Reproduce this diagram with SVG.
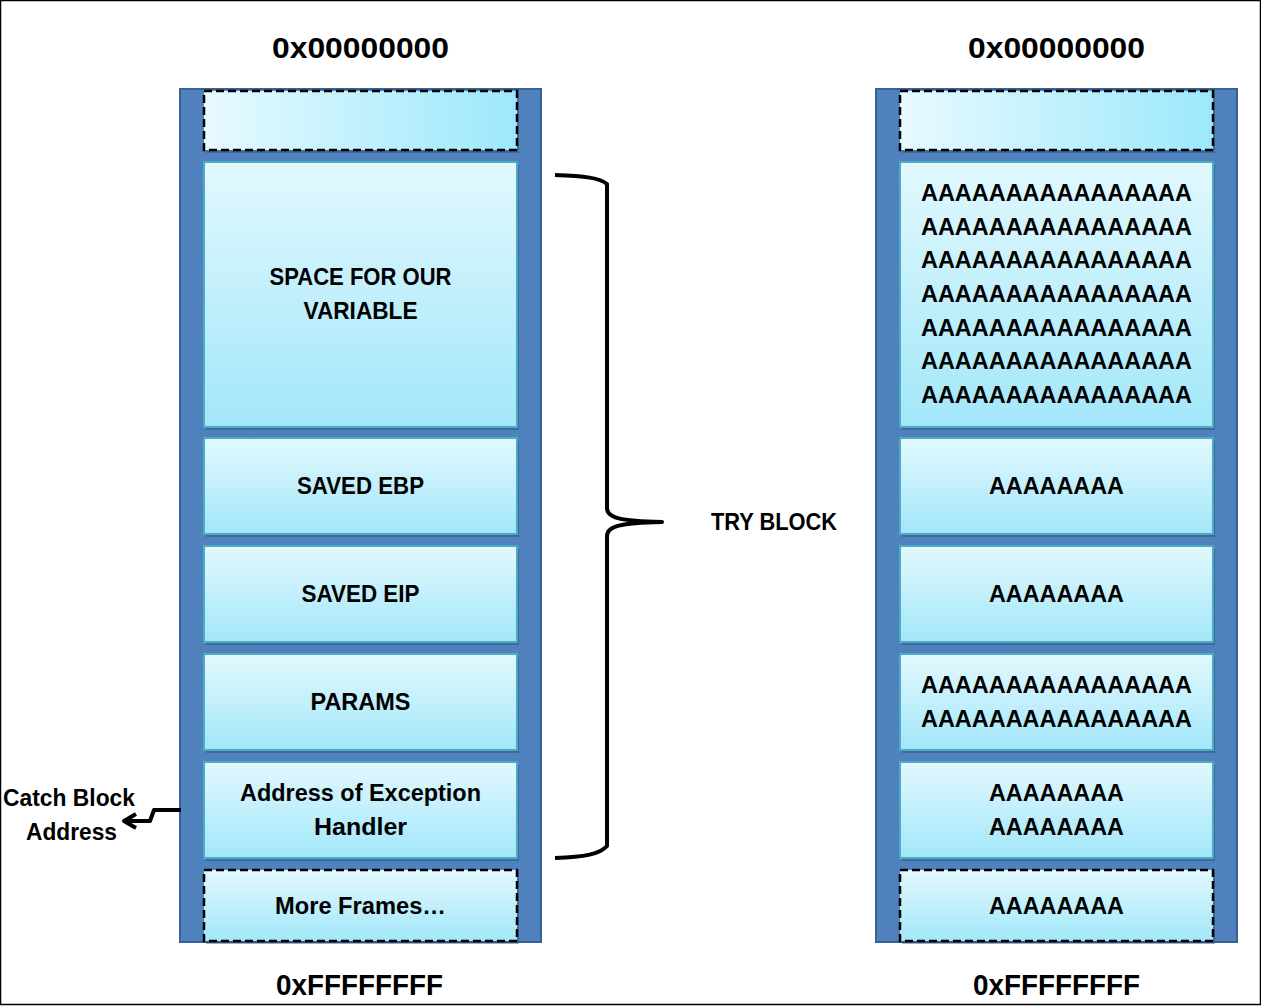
<svg xmlns="http://www.w3.org/2000/svg" width="1261" height="1006" viewBox="0 0 1261 1006">
<style>
.t{font-family:"Liberation Sans",Arial,sans-serif;font-weight:bold;fill:#000;text-anchor:middle}
.lbl{font-size:23px}
.addr{font-size:30px}
.col{fill:#4F81BD;stroke:#3A6094;stroke-width:2}
.box{fill:url(#vg);stroke:#4BACC6;stroke-width:2}
.dash{stroke:#000;stroke-width:2.5;stroke-dasharray:8,4}
.sh{fill:#2c4a70;opacity:0.45}
.conn{fill:none;stroke:#000;stroke-width:4;stroke-linejoin:round}
</style>
<defs>
<linearGradient id="vg" x1="0" y1="0" x2="0" y2="1">
<stop offset="0" stop-color="#E2F8FE"/><stop offset="1" stop-color="#A2E7F9"/>
</linearGradient>
<linearGradient id="hg" x1="0" y1="0" x2="1" y2="0">
<stop offset="0" stop-color="#E8FAFF"/><stop offset="1" stop-color="#9CE8FB"/>
</linearGradient>
</defs>
<rect x="0.5" y="0.5" width="1260" height="1004" fill="#fff" stroke="#000" stroke-width="1.5"/>

<g id="stack-left">
<rect class="col" x="180" y="89" width="361" height="853"/>
</g>
<g id="stack-right">
<rect class="col" x="876" y="89" width="361" height="853"/>
</g>

<g id="left-top">
<rect class="sh" x="206" y="94" width="313" height="59"/>
<rect x="204" y="91" width="313" height="59" fill="url(#hg)" class="dash"/>
</g>
<g id="left-space">
<rect class="sh" x="206" y="165" width="313" height="265"/>
<rect class="box" x="204" y="162" width="313" height="265"/>
<text class="t lbl" x="360.5" y="285" textLength="182" lengthAdjust="spacingAndGlyphs">SPACE FOR OUR</text>
<text class="t lbl" x="360.5" y="319" textLength="114" lengthAdjust="spacingAndGlyphs">VARIABLE</text>
</g>
<g id="left-ebp">
<rect class="sh" x="206" y="441" width="313" height="96"/>
<rect class="box" x="204" y="438" width="313" height="96"/>
<text class="t lbl" x="360.5" y="494" textLength="127" lengthAdjust="spacingAndGlyphs">SAVED EBP</text>
</g>
<g id="left-eip">
<rect class="sh" x="206" y="549" width="313" height="96"/>
<rect class="box" x="204" y="546" width="313" height="96"/>
<text class="t lbl" x="360.5" y="602" textLength="118" lengthAdjust="spacingAndGlyphs">SAVED EIP</text>
</g>
<g id="left-params">
<rect class="sh" x="206" y="657" width="313" height="96"/>
<rect class="box" x="204" y="654" width="313" height="96"/>
<text class="t lbl" x="360.5" y="710" textLength="100" lengthAdjust="spacingAndGlyphs">PARAMS</text>
</g>
<g id="left-handler">
<rect class="sh" x="206" y="765" width="313" height="96"/>
<rect class="box" x="204" y="762" width="313" height="96"/>
<text class="t lbl" x="360.5" y="801" textLength="241" lengthAdjust="spacingAndGlyphs">Address of Exception</text>
<text class="t lbl" x="360.5" y="835" textLength="93" lengthAdjust="spacingAndGlyphs">Handler</text>
</g>
<g id="left-more">
<rect class="sh" x="206" y="873" width="313" height="71"/>
<rect x="204" y="870" width="313" height="71" fill="url(#vg)" class="dash"/>
<text class="t lbl" x="360.5" y="914" textLength="171" lengthAdjust="spacingAndGlyphs">More Frames…</text>
</g>

<g id="right-top">
<rect class="sh" x="902" y="94" width="313" height="59"/>
<rect x="900" y="91" width="313" height="59" fill="url(#hg)" class="dash"/>
</g>
<g id="right-space">
<rect class="sh" x="902" y="165" width="313" height="265"/>
<rect class="box" x="900" y="162" width="313" height="265"/>
<text class="t lbl" x="1056.5" y="201" textLength="271" lengthAdjust="spacingAndGlyphs">AAAAAAAAAAAAAAAA</text>
<text class="t lbl" x="1056.5" y="235" textLength="271" lengthAdjust="spacingAndGlyphs">AAAAAAAAAAAAAAAA</text>
<text class="t lbl" x="1056.5" y="268" textLength="271" lengthAdjust="spacingAndGlyphs">AAAAAAAAAAAAAAAA</text>
<text class="t lbl" x="1056.5" y="302" textLength="271" lengthAdjust="spacingAndGlyphs">AAAAAAAAAAAAAAAA</text>
<text class="t lbl" x="1056.5" y="336" textLength="271" lengthAdjust="spacingAndGlyphs">AAAAAAAAAAAAAAAA</text>
<text class="t lbl" x="1056.5" y="369" textLength="271" lengthAdjust="spacingAndGlyphs">AAAAAAAAAAAAAAAA</text>
<text class="t lbl" x="1056.5" y="403" textLength="271" lengthAdjust="spacingAndGlyphs">AAAAAAAAAAAAAAAA</text>
</g>
<g id="right-ebp">
<rect class="sh" x="902" y="441" width="313" height="96"/>
<rect class="box" x="900" y="438" width="313" height="96"/>
<text class="t lbl" x="1056.5" y="494" textLength="135" lengthAdjust="spacingAndGlyphs">AAAAAAAA</text>
</g>
<g id="right-eip">
<rect class="sh" x="902" y="549" width="313" height="96"/>
<rect class="box" x="900" y="546" width="313" height="96"/>
<text class="t lbl" x="1056.5" y="602" textLength="135" lengthAdjust="spacingAndGlyphs">AAAAAAAA</text>
</g>
<g id="right-params">
<rect class="sh" x="902" y="657" width="313" height="96"/>
<rect class="box" x="900" y="654" width="313" height="96"/>
<text class="t lbl" x="1056.5" y="693" textLength="271" lengthAdjust="spacingAndGlyphs">AAAAAAAAAAAAAAAA</text>
<text class="t lbl" x="1056.5" y="727" textLength="271" lengthAdjust="spacingAndGlyphs">AAAAAAAAAAAAAAAA</text>
</g>
<g id="right-handler">
<rect class="sh" x="902" y="765" width="313" height="96"/>
<rect class="box" x="900" y="762" width="313" height="96"/>
<text class="t lbl" x="1056.5" y="801" textLength="135" lengthAdjust="spacingAndGlyphs">AAAAAAAA</text>
<text class="t lbl" x="1056.5" y="835" textLength="135" lengthAdjust="spacingAndGlyphs">AAAAAAAA</text>
</g>
<g id="right-more">
<rect class="sh" x="902" y="873" width="313" height="71"/>
<rect x="900" y="870" width="313" height="71" fill="url(#vg)" class="dash"/>
<text class="t lbl" x="1056.5" y="914" textLength="135" lengthAdjust="spacingAndGlyphs">AAAAAAAA</text>
</g>

<g id="labels">
<text class="t addr" x="360.5" y="58" textLength="177" lengthAdjust="spacingAndGlyphs">0x00000000</text>
<text class="t addr" x="1056.5" y="58" textLength="177" lengthAdjust="spacingAndGlyphs">0x00000000</text>
<text class="t addr" x="359.5" y="995" textLength="167" lengthAdjust="spacingAndGlyphs">0xFFFFFFFF</text>
<text class="t addr" x="1056.5" y="995" textLength="167" lengthAdjust="spacingAndGlyphs">0xFFFFFFFF</text>
<text class="t lbl" x="774" y="530" textLength="126" lengthAdjust="spacingAndGlyphs">TRY BLOCK</text>
<text class="t lbl" x="69" y="806" textLength="132" lengthAdjust="spacingAndGlyphs">Catch Block</text>
<text class="t lbl" x="71.5" y="840" textLength="91" lengthAdjust="spacingAndGlyphs">Address</text>
</g>

<g id="connectors">
<path class="conn" d="M555,175 C585,176 600,178 607,184 L607,508 C607,518 620,521 662,522 C620,523 607,526 607,536 L607,846 C600,854 585,857 555,858"/>
<path class="conn" stroke-width="3" d="M181,810 L154,810 L150,821 L126,821"/>
<path class="conn" stroke-width="3" d="M136,814 L124,821 L136,828"/>
</g>
</svg>
